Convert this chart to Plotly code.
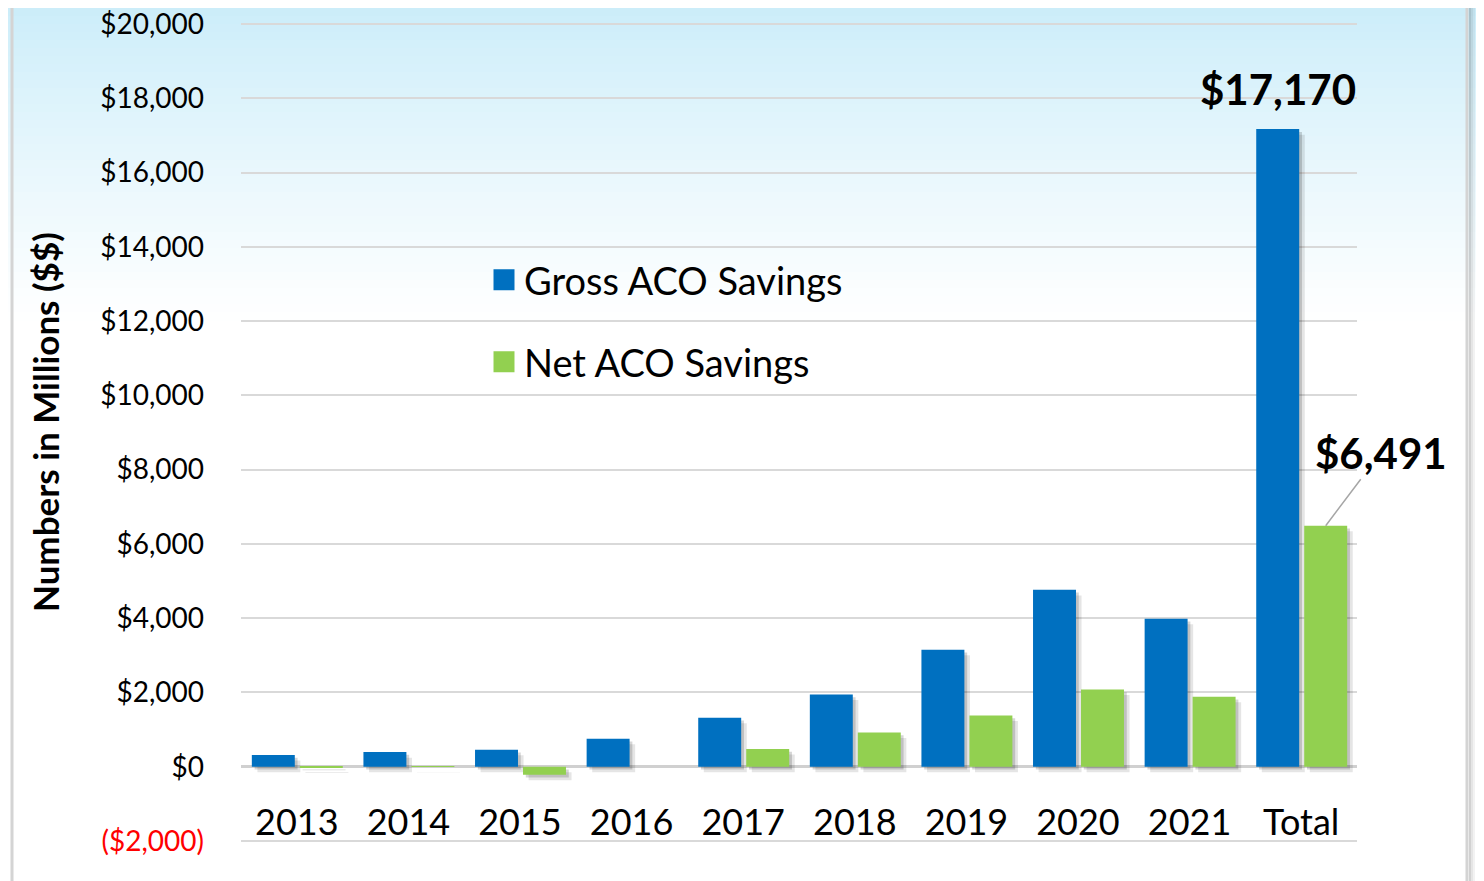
import plotly.graph_objects as go

# ---------------- data ----------------
categories = ["2013", "2014", "2015", "2016", "2017", "2018", "2019", "2020", "2021", "Total"]
gross_savings = [315, 395, 458, 754, 1319, 1946, 3149, 4764, 3984, 17170]
net_savings = [-20, -3, -216, 0, 476, 923, 1381, 2081, 1884, 6491]
series_names = ["Gross ACO Savings", "Net ACO Savings"]
y_tick_values = [-2000, 0, 2000, 4000, 6000, 8000, 10000, 12000, 14000, 16000, 18000, 20000]
y_tick_labels = ["<span style='color:#FF0000'>($2,000)</span>", "$0", "$2,000", "$4,000", "$6,000",
                 "$8,000", "$10,000", "$12,000", "$14,000", "$16,000", "$18,000", "$20,000"]
y_title = "Numbers in Millions ($$)"
total_gross_label = "$17,170"
total_net_label = "$6,491"

# ---------------- style ----------------
OFF = 8  # page body margin
PAD = 3  # extra px so end gridlines are drawn
W, H = 1484 - OFF, 881 - OFF
ML, MR, MT, MB = 241 - OFF, 127, 24 - OFF - PAD, 40 - PAD
PW, PH = W - ML - MR, H - MT - MB
UNIT = 22000 / (PH - 2 * PAD)
Y_RANGE = [-2000 - PAD * UNIT, 20000 + PAD * UNIT]
BLUE = "#0070C0"
GREEN = "#92D050"
FONT = "Lato"
BAR_W = 0.385
OFF_G = -0.403
OFF_N = 0.027


def px_x(x):
    return (x - OFF - ML) / PW


def px_y(y):
    return (H - MB - (y - OFF)) / PH


fig = go.Figure()

# shadows (drawn first)
for dx, d, a in [(0.05, 150, 0.10), (0.025, 75, 0.16)]:
    for vals, off in [(gross_savings, OFF_G), (net_savings, OFF_N)]:
        fig.add_trace(go.Bar(
            x=categories, y=[abs(v) for v in vals],
            base=[min(v, 0) - d if v != 0 else 0 for v in vals],
            offset=off + dx, width=BAR_W,
            marker=dict(color=f"rgba(0,0,0,{a})", line=dict(width=0)),
            showlegend=False, hoverinfo="skip"))

fig.add_trace(go.Bar(x=categories, y=gross_savings, offset=OFF_G, width=BAR_W,
                     marker=dict(color=BLUE, line=dict(width=0)),
                     name=series_names[0], showlegend=False))
fig.add_trace(go.Bar(x=categories, y=net_savings, offset=OFF_N, width=BAR_W,
                     marker=dict(color=GREEN, line=dict(width=0)),
                     name=series_names[1], showlegend=False))

# legend entries
fig.add_trace(go.Scatter(x=[None], y=[None], mode="markers", name=series_names[0],
                         marker=dict(symbol="square", size=16, color=BLUE, line=dict(color=BLUE, width=5)),
                         legend="legend"))
fig.add_trace(go.Scatter(x=[None], y=[None], mode="markers", name=series_names[1],
                         marker=dict(symbol="square", size=16, color=GREEN, line=dict(color=GREEN, width=5)),
                         legend="legend2"))

shapes = []
# background gradient
top = (201, 236, 249)
N = 40
G_END = 320
for i in range(N):
    y0 = G_END * i / N
    y1 = G_END * (i + 1) / N
    t = ((y0 + y1) / 2) / G_END
    t = t ** 0.85
    c = tuple(int(round(top[k] + (255 - top[k]) * t)) for k in range(3))
    shapes.append(dict(type="rect", xref="paper", yref="paper", layer="below",
                       x0=px_x(0), x1=px_x(1484 + 10), y0=px_y(y1 + 0.5), y1=px_y(y0 - (OFF if i == 0 else 0)),
                       fillcolor=f"rgb{c}", line=dict(width=0)))
# frame shadow on right
for dxp, a in [(3, 0.18), (5, 0.10), (7, 0.05)]:
    shapes.append(dict(type="line", xref="paper", yref="paper", layer="below",
                       x0=px_x(1467 + dxp), x1=px_x(1467 + dxp), y0=px_y(900), y1=px_y(7),
                       line=dict(color=f"rgba(0,0,0,{a})", width=2)))
# frame
shapes.append(dict(type="rect", xref="paper", yref="paper", layer="below",
                   x0=px_x(12), x1=px_x(1467), y0=px_y(910), y1=px_y(4),
                   line=dict(color="#D4D4D4", width=3), fillcolor="rgba(0,0,0,0)"))

annotations = [
    dict(text=f"<b>{y_title}</b>", textangle=-90, xref="paper", yref="paper",
         x=px_x(45), y=px_y(422), xanchor="center", yanchor="middle", showarrow=False,
         font=dict(family=FONT, size=35, color="black")),
    dict(text=f"<b>{total_gross_label}</b>", x=9 + OFF_G + BAR_W / 2, y=gross_savings[-1],
         xref="x", yref="y", showarrow=False, yanchor="bottom", yshift=13,
         font=dict(family=FONT, size=42, color="black")),
    dict(text=f"<b>{total_net_label}</b>", x=9 + OFF_N + BAR_W / 2, y=net_savings[-1],
         xref="x", yref="y", showarrow=True, arrowhead=0, arrowwidth=1.5, arrowcolor="#A6A6A6",
         ax=55, ay=-73, font=dict(family=FONT, size=42, color="black")),
]

fig.update_layout(
    width=W, height=H,
    margin=dict(l=ML, r=MR, t=MT, b=MB, pad=0, autoexpand=False),
    paper_bgcolor="white", plot_bgcolor="rgba(0,0,0,0)",
    barmode="overlay",
    font=dict(family=FONT, color="black"),
    shapes=shapes, annotations=annotations,
    xaxis=dict(type="category", range=[-0.5, 9.5], showgrid=False, showline=False, zeroline=False,
               ticks="", anchor="free", position=px_y(798), automargin=False,
               tickfont=dict(family=FONT, size=36, color="black")),
    yaxis=dict(range=Y_RANGE, tickvals=y_tick_values, ticktext=y_tick_labels,
               showgrid=True, gridcolor="#D9D9D9", gridwidth=2,
               zeroline=True, zerolinecolor="#D0D0D0", zerolinewidth=3,
               showline=False, ticks="", ticklabelstandoff=36, ticklabeloverflow="allow",
               automargin=False,
               tickfont=dict(family=FONT, size=28, color="black")),
    legend=dict(x=px_x(484), y=px_y(280), xanchor="left", yanchor="middle",
                bgcolor="rgba(0,0,0,0)", font=dict(family=FONT, size=38, color="black")),
    legend2=dict(x=px_x(484), y=px_y(362), xanchor="left", yanchor="middle",
                 bgcolor="rgba(0,0,0,0)", font=dict(family=FONT, size=38, color="black")),
    showlegend=True,
)

fig.write_html("out.html")
